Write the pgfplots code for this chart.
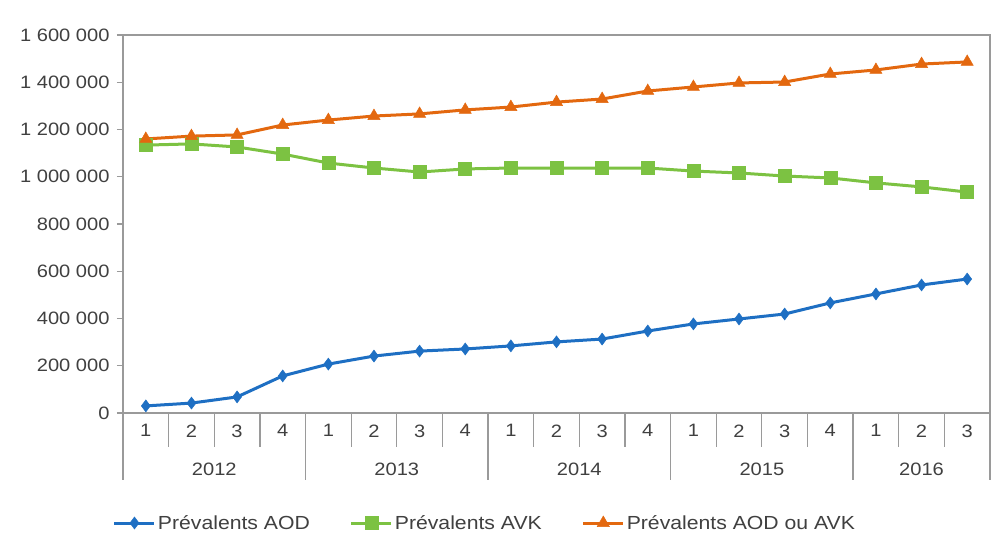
\documentclass[border=0pt]{standalone}
\usepackage{fontspec}
\setmainfont{Liberation Sans}[FakeStretch=1.12]
\usepackage{pgfplots}
\pgfplotsset{compat=1.18}
\usepackage{pgfplotstable}
\definecolor{cblue}{HTML}{1E6FC3}
\definecolor{cgreen}{HTML}{7CC242}
\definecolor{corange}{HTML}{E3680F}
\definecolor{cgrid}{HTML}{9A9A9A}
\definecolor{ctext}{HTML}{404040}
\pgfplotstableread{
x aod avk tot
0 30000 1134000 1160000
1 42000 1139000 1172000
2 68000 1126000 1177000
3 157000 1096000 1219000
4 207000 1058000 1240000
5 241000 1037000 1257000
6 262000 1020000 1266000
7 271000 1033000 1283000
8 284000 1037000 1295000
9 301000 1037000 1316000
10 313000 1037000 1329000
11 347000 1037000 1363000
12 377000 1024000 1380000
13 398000 1016000 1397000
14 419000 1003000 1401000
15 466000 995000 1435000
16 504000 974000 1452000
17 542000 957000 1477000
18 567000 935000 1486000
}\data
\begin{document}
\begin{tikzpicture}
\useasboundingbox (0,0) rectangle (992bp,537bp);
\begin{axis}[
  at={(123bp,124bp)}, anchor=south west,
  scale only axis, width=867bp, height=378bp,
  xmin=-0.5, xmax=18.5, ymin=0, ymax=1600000,
  clip=false,
  axis line style={cgrid, line width=1.3bp},
  ytick={0,200000,...,1600000},
  scaled y ticks=false,
  /pgf/number format/fixed,
  /pgf/number format/1000 sep={\ },
  /pgf/number format/assume math mode=true,
  yticklabel style={font=\fontsize{18}{20}\selectfont, text=ctext, xshift=-4bp},
  ytick pos=left, tick align=outside,
  major tick length=6bp,
  tick style={cgrid, line width=1.3bp},
  xtick={0,...,18},
  xticklabels={1,2,3,4,1,2,3,4,1,2,3,4,1,2,3,4,1,2,3},
  x tick label style={font=\fontsize{18}{20}\selectfont, text=ctext, yshift=-2bp},
  xtick style={draw=none},
  legend columns=3,
  legend style={draw=none, at={(0.4175,0)}, anchor=center, yshift=-110bp,
    font=\fontsize{19}{21}\selectfont, text=ctext,
    /tikz/every even column/.append style={column sep=38bp}},
  legend image code/.code={
    \draw[#1, mark repeat=2, mark phase=2] plot coordinates {(0bp,0bp) (20bp,0bp) (40bp,0bp)};},
]
\addplot[cblue, line width=3bp, mark=diamond*, mark size=6bp, mark options={solid, line width=0.5bp}] table[x=x,y=aod]{\data};
\addlegendentry{Prévalents AOD}
\addplot[cgreen, line width=3bp, mark=square*, mark size=6.5bp, mark options={solid, line width=0.5bp}] table[x=x,y=avk]{\data};
\addlegendentry{Prévalents AVK}
\addplot[corange, line width=3bp, mark=triangle*, mark size=7bp, mark options={solid, line width=0.5bp}] table[x=x,y=tot]{\data};
\addlegendentry{Prévalents AOD ou AVK}
\foreach \b in {0.5,1.5,2.5,4.5,5.5,6.5,8.5,9.5,10.5,12.5,13.5,14.5,16.5,17.5}{
  \edef\tmp{\noexpand\draw[cgrid, line width=1.3bp] (axis cs:\b,0) -- ([yshift=-34bp]axis cs:\b,0);}\tmp
}
\foreach \b in {-0.5,3.5,7.5,11.5,15.5,18.5}{
  \edef\tmp{\noexpand\draw[cgrid, line width=1.3bp] (axis cs:\b,0) -- ([yshift=-67bp]axis cs:\b,0);}\tmp
}
\foreach \c/\y in {1.5/2012,5.5/2013,9.5/2014,13.5/2015,17/2016}{
  \edef\tmp{\noexpand\node[text=ctext, font=\noexpand\fontsize{18}{20}\noexpand\selectfont] at ([yshift=-56bp]axis cs:\c,0) {\y};}\tmp
}
\end{axis}
\end{tikzpicture}
\end{document}
